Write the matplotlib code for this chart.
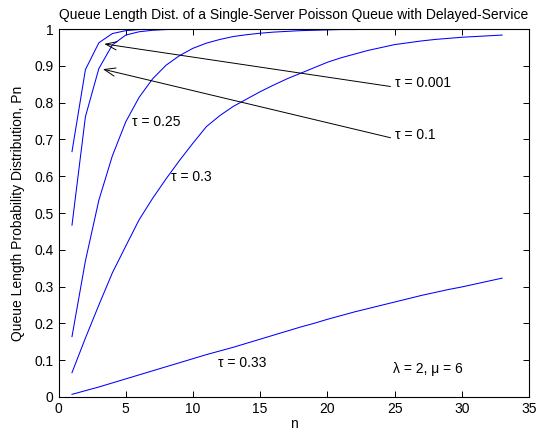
import matplotlib
matplotlib.use("Agg")
from matplotlib import pyplot as plt

plt.rcParams['font.family'] = ['Liberation Sans', 'DejaVu Sans']

# queue length distribution Pn, n = 1..33
n = list(range(1, 34))

p_0001 = [0.667, 0.890, 0.963, 0.988, 0.996, 0.999] + [1.0] * 27
p_01 = [0.467, 0.762, 0.893, 0.957, 0.984, 0.993, 0.997, 0.999] + [1.0] * 25
p_025 = [0.164, 0.370, 0.535, 0.655, 0.748, 0.815, 0.865, 0.902, 0.928, 0.948,
         0.962, 0.972, 0.980, 0.985, 0.989, 0.992, 0.994, 0.996, 0.997, 0.998,
         0.999, 0.999] + [1.0] * 11
p_03 = [0.066, 0.160, 0.250, 0.337, 0.410, 0.482, 0.540, 0.593, 0.643, 0.690,
        0.735, 0.765, 0.790, 0.810, 0.830, 0.848, 0.865, 0.880, 0.895, 0.910,
        0.922, 0.932, 0.942, 0.950, 0.958, 0.963, 0.968, 0.972, 0.975, 0.978,
        0.980, 0.982, 0.984]
p_033 = [0.007, 0.017, 0.027, 0.038, 0.049, 0.060, 0.071, 0.082, 0.093, 0.104,
         0.115, 0.125, 0.135, 0.146, 0.157, 0.168, 0.179, 0.190, 0.200, 0.211,
         0.221, 0.231, 0.240, 0.249, 0.258, 0.267, 0.276, 0.284, 0.292, 0.299,
         0.307, 0.315, 0.323]

fig = plt.figure(figsize=(5.42, 4.42), dpi=100)
ax = fig.add_axes([0.108, 0.102, 0.868, 0.832])

for p in [p_0001, p_01, p_025, p_03, p_033]:
    ax.plot(n, p, color='#0000ff', lw=0.75)

# arrows for the two steep curves
arr = dict(arrowstyle='->,head_length=0.8,head_width=0.3', color='black', lw=0.7)
ax.annotate('', xy=(3.2, 0.961), xytext=(24.9, 0.843), arrowprops=arr)
ax.annotate('', xy=(3.1, 0.893), xytext=(24.9, 0.703), arrowprops=arr)

fs = 10
ax.text(25.0, 0.853, 'τ = 0.001', fontsize=fs, va='center')
ax.text(25.0, 0.713, 'τ = 0.1', fontsize=fs, va='center')
ax.text(5.45, 0.748, 'τ = 0.25', fontsize=fs, va='center')
ax.text(8.4, 0.599, 'τ = 0.3', fontsize=fs, va='center')
ax.text(11.9, 0.092, 'τ = 0.33', fontsize=fs, va='center')
ax.text(24.9, 0.075, 'λ = 2, μ = 6', fontsize=fs, va='center')

ax.set_xlim(0, 35)
ax.set_ylim(0, 1)
ax.set_xticks(range(0, 36, 5))
ax.set_yticks([i / 10 for i in range(11)])
ax.set_yticklabels(['0', '0.1', '0.2', '0.3', '0.4', '0.5', '0.6', '0.7', '0.8', '0.9', '1'])
ax.tick_params(direction='in', top=True, right=True, length=4, labelsize=fs, width=0.7)
for s in ax.spines.values():
    s.set_linewidth(0.8)

ax.set_xlabel('n', fontsize=fs, labelpad=1)
ax.set_ylabel('Queue Length Probability Distribution, Pn', fontsize=fs, labelpad=7)
ax.set_title('Queue Length Dist. of a Single-Server Poisson Queue with Delayed-Service',
             fontsize=fs, pad=7)

fig.savefig('out.png', dpi=100)
